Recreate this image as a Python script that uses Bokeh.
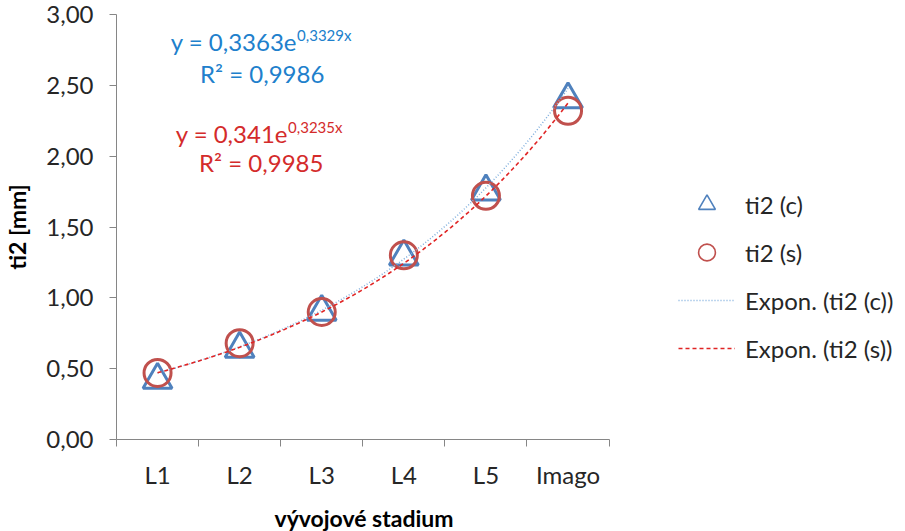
import numpy as np
from bokeh.plotting import figure
from bokeh.models import (FixedTicker, Label, Legend, LegendItem, Range1d, Title,
                          CustomJSTickFormatter, ColumnDataSource)
from bokeh.transform import dodge
from bokeh.embed import file_html
from bokeh.resources import INLINE

# ---- data ----
categories = ["L1", "L2", "L3", "L4", "L5", "Imago"]
ti2_c = [0.45, 0.67, 0.93, 1.32, 1.78, 2.43]
ti2_s = [0.47, 0.68, 0.90, 1.30, 1.72, 2.32]
y_ticks = [0.0, 0.5, 1.0, 1.5, 2.0, 2.5, 3.0]
# exponential trendline parameters as printed on the chart: y = a * e^(b x)
fit_c_a, fit_c_b, fit_c_r2 = 0.3363, 0.3329, 0.9986
fit_s_a, fit_s_b, fit_s_r2 = 0.341, 0.3235, 0.9985

FONT = "Lato"
BLUE = "#4F81BD"
RED = "#C0504D"
TXT_BLUE = "#2080CC"
TXT_RED = "#D42B2B"
AXIS_GRAY = "#868686"
TICK_TXT = "#262626"

n = len(categories)
xpos = list(range(1, n + 1))

# layout: the category axis occupies 497 px of a 788 px wide frame; the rest holds the legend
AXIS_PX, FRAME_PX = 497, 788
x_end = 0.5 + n * FRAME_PX / AXIS_PX

p = figure(width=897, height=551, output_backend="svg", toolbar_location=None,
           x_range=Range1d(0.5, x_end), y_range=Range1d(0, 3),
           min_border_left=109, min_border_right=0,
           min_border_top=14, min_border_bottom=112)
p.outline_line_color = None
p.xgrid.visible = False
p.ygrid.visible = False
p.background_fill_color = "white"
p.border_fill_color = "white"

# x axis: labels at category centres, tick marks at category boundaries
xa = p.xaxis[0]
xa.bounds = (0.5, n + 0.5)
xa.ticker = FixedTicker(ticks=xpos, minor_ticks=[i + 0.5 for i in range(0, n + 1)])
xa.major_label_overrides = {i: c for i, c in zip(xpos, categories)}
xa.major_tick_out = 0
xa.major_tick_in = 0
xa.minor_tick_out = 7
xa.minor_tick_in = 0
xa.minor_tick_line_color = AXIS_GRAY
xa.axis_line_color = AXIS_GRAY
xa.major_label_text_font = FONT
xa.major_label_text_font_size = "24px"
xa.major_label_text_color = TICK_TXT
xa.major_label_standoff = 13

# x axis title centred under the category axis (not under the whole frame)
p.add_layout(Title(text="vývojové stadium", align="left", offset=158,
                   vertical_align="top", text_font=FONT, text_font_size="23px",
                   text_font_style="bold", text_color="black", standoff=24), "below")

ya = p.yaxis[0]
ya.ticker = FixedTicker(ticks=y_ticks, minor_ticks=[])
ya.formatter = CustomJSTickFormatter(code="return tick.toFixed(2).replace('.', ',');")
ya.major_tick_out = 7
ya.major_tick_in = 0
ya.major_tick_line_color = AXIS_GRAY
ya.axis_line_color = AXIS_GRAY
ya.major_label_text_font = FONT
ya.major_label_text_font_size = "24px"
ya.major_label_text_color = TICK_TXT
ya.major_label_standoff = 16
ya.axis_label = "ti2 [mm]"
ya.axis_label_text_font = FONT
ya.axis_label_text_font_size = "23px"
ya.axis_label_text_font_style = "bold"
ya.axis_label_text_color = "black"
ya.axis_label_standoff = 12

# ---- markers ----
src = ColumnDataSource(dict(x=xpos, c=ti2_c, s=ti2_s))
# shift triangles so their bounding-box centre (not centroid) sits on the value
p.scatter("x", dodge("c", -0.03, range=p.y_range), source=src, marker="triangle", size=29,
          fill_color=None, line_color=BLUE, line_width=3)
p.scatter("x", "s", source=src, marker="circle", size=27,
          fill_color=None, line_color=RED, line_width=3)

# ---- trendlines ----
xs = np.linspace(1, n, 120)
tl_c = p.line(xs, fit_c_a * np.exp(fit_c_b * xs), line_color="#7FAEDD",
              line_width=1.5, line_dash="1 2")
tl_s = p.line(xs, fit_s_a * np.exp(fit_s_b * xs), line_color="#E02424",
              line_width=1.6, line_dash="4 3")

# ---- legend (off-canvas dummy renderers with thinner outlines) ----
nan_src = ColumnDataSource(dict(x=[np.nan], y=[np.nan]))
lg_c = p.scatter("x", "y", source=nan_src, marker="triangle", fill_color=None,
                 line_color=BLUE, line_width=1.6)
lg_s = p.scatter("x", "y", source=nan_src, marker="circle", fill_color=None,
                 line_color=RED, line_width=1.6)
legend = Legend(items=[
    LegendItem(label="ti2 (c)", renderers=[lg_c]),
    LegendItem(label="ti2 (s)", renderers=[lg_s]),
    LegendItem(label="Expon. (ti2 (c))", renderers=[tl_c]),
    LegendItem(label="Expon. (ti2 (s))", renderers=[tl_s]),
], location=(562, 70), orientation="vertical")
legend.glyph_width = 57
legend.glyph_height = 42
legend.spacing = 6
legend.padding = 0
legend.margin = 0
legend.label_standoff = 10
legend.label_text_font = FONT
legend.label_text_font_size = "24px"
legend.label_text_color = TICK_TXT
legend.border_line_color = None
legend.background_fill_alpha = 0
p.add_layout(legend, "center")

# ---- trendline equations ----
def eq_labels(x_e, y_main, y_sup, x_r2, y_r2, a, b, r2, color):
    fmt = lambda v: str(v).replace(".", ",")
    p.add_layout(Label(x=x_e, y=y_main, text=f"y = {fmt(a)}e", text_align="right",
                       text_baseline="middle", text_font=FONT, text_font_size="24px",
                       text_color=color))
    p.add_layout(Label(x=x_e, y=y_sup, text=f"{fmt(b)}x", text_align="left",
                       text_baseline="middle", text_font=FONT, text_font_size="15px",
                       text_color=color))
    p.add_layout(Label(x=x_r2, y=y_r2, text=f"R² = {fmt(r2)}", text_align="center",
                       text_baseline="middle", text_font=FONT, text_font_size="24px",
                       text_color=color))

eq_labels(2.70, 2.81, 2.855, 2.275, 2.585, fit_c_a, fit_c_b, fit_c_r2, TXT_BLUE)
eq_labels(2.59, 2.16, 2.205, 2.263, 1.955, fit_s_a, fit_s_b, fit_s_r2, TXT_RED)

open("out.html", "w").write(file_html(p, INLINE))
